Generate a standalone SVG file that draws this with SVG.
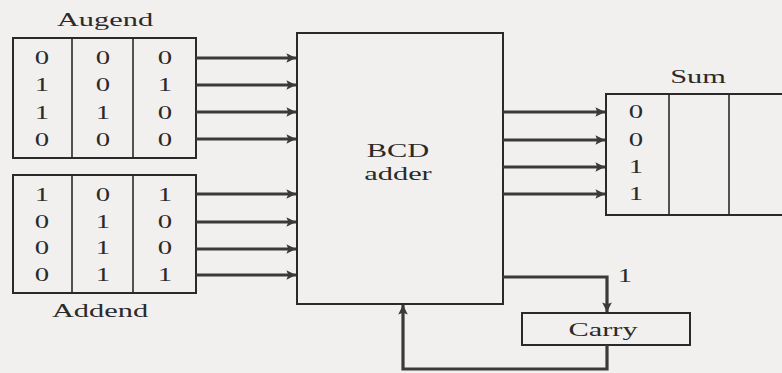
<svg xmlns="http://www.w3.org/2000/svg" width="782" height="373" viewBox="0 0 782 373">
<style>
.bx{fill:none;stroke:#2a2a2a;stroke-width:2}
.ln{fill:none;stroke:#2a2a2a;stroke-width:1.6}
.w{fill:none;stroke:#3a3a3a;stroke-width:3.2}
.t{font-family:"Liberation Serif",serif;font-size:19px;fill:#2a2a2a;text-anchor:middle}
.d{font-family:"Liberation Serif",serif;font-size:18px;fill:#2a2a2a;text-anchor:middle}
</style>
<defs>
<marker id="ah" viewBox="0 0 10 10" refX="10" refY="5" markerWidth="6" markerHeight="3" orient="auto" markerUnits="strokeWidth">
<path d="M0,0 L10,5 L0,10 L2,5 Z" fill="#3a3a3a"/>
</marker>
</defs>
<rect width="782" height="373" fill="#f1f0ee"/>
<g id="augend">
<text class="t" transform="translate(105,26) scale(1.6,1)">Augend</text>
<rect class="bx" x="13" y="38" width="183" height="120"/>
<line class="ln" x1="72" y1="38" x2="72" y2="158"/>
<line class="ln" x1="133" y1="38" x2="133" y2="158"/>
<text class="d" transform="translate(42,64) scale(1.6,1)">0</text><text class="d" transform="translate(103,64) scale(1.6,1)">0</text><text class="d" transform="translate(165,64) scale(1.6,1)">0</text>
<text class="d" transform="translate(42,91) scale(1.6,1)">1</text><text class="d" transform="translate(103,91) scale(1.6,1)">0</text><text class="d" transform="translate(165,91) scale(1.6,1)">1</text>
<text class="d" transform="translate(42,119) scale(1.6,1)">1</text><text class="d" transform="translate(103,119) scale(1.6,1)">1</text><text class="d" transform="translate(165,119) scale(1.6,1)">0</text>
<text class="d" transform="translate(42,146) scale(1.6,1)">0</text><text class="d" transform="translate(103,146) scale(1.6,1)">0</text><text class="d" transform="translate(165,146) scale(1.6,1)">0</text>
</g>
<g id="addend">
<rect class="bx" x="13" y="175" width="183" height="118"/>
<line class="ln" x1="72" y1="175" x2="72" y2="293"/>
<line class="ln" x1="133" y1="175" x2="133" y2="293"/>
<text class="d" transform="translate(42,201) scale(1.6,1)">1</text><text class="d" transform="translate(103,201) scale(1.6,1)">0</text><text class="d" transform="translate(165,201) scale(1.6,1)">1</text>
<text class="d" transform="translate(42,228) scale(1.6,1)">0</text><text class="d" transform="translate(103,228) scale(1.6,1)">1</text><text class="d" transform="translate(165,228) scale(1.6,1)">0</text>
<text class="d" transform="translate(42,254) scale(1.6,1)">0</text><text class="d" transform="translate(103,254) scale(1.6,1)">1</text><text class="d" transform="translate(165,254) scale(1.6,1)">0</text>
<text class="d" transform="translate(42,281) scale(1.6,1)">0</text><text class="d" transform="translate(103,281) scale(1.6,1)">1</text><text class="d" transform="translate(165,281) scale(1.6,1)">1</text>
<text class="t" transform="translate(100,317) scale(1.6,1)">Addend</text>
</g>
<g id="bcd">
<rect class="bx" x="297" y="33" width="206" height="271"/>
<text class="t" transform="translate(398,157) scale(1.6,1)">BCD</text>
<text class="t" transform="translate(398,180) scale(1.6,1)">adder</text>
</g>
<g id="sum">
<text class="t" transform="translate(698,83) scale(1.6,1)">Sum</text>
<rect class="bx" x="606" y="94" width="190" height="121"/>
<line class="ln" x1="669" y1="94" x2="669" y2="215"/>
<line class="ln" x1="729" y1="94" x2="729" y2="215"/>
<text class="d" transform="translate(636,118) scale(1.6,1)">0</text>
<text class="d" transform="translate(636,146) scale(1.6,1)">0</text>
<text class="d" transform="translate(636,173) scale(1.6,1)">1</text>
<text class="d" transform="translate(636,200) scale(1.6,1)">1</text>
</g>
<g id="carry">
<rect class="bx" x="522" y="313" width="168" height="32"/>
<text class="t" transform="translate(603,336) scale(1.6,1)">Carry</text>
</g>
<g id="connectors">
<line class="w" x1="196" y1="58" x2="296" y2="58" marker-end="url(#ah)"/>
<line class="w" x1="196" y1="85" x2="296" y2="85" marker-end="url(#ah)"/>
<line class="w" x1="196" y1="112" x2="296" y2="112" marker-end="url(#ah)"/>
<line class="w" x1="196" y1="139" x2="296" y2="139" marker-end="url(#ah)"/>
<line class="w" x1="196" y1="194" x2="296" y2="194" marker-end="url(#ah)"/>
<line class="w" x1="196" y1="222" x2="296" y2="222" marker-end="url(#ah)"/>
<line class="w" x1="196" y1="249" x2="296" y2="249" marker-end="url(#ah)"/>
<line class="w" x1="196" y1="275" x2="296" y2="275" marker-end="url(#ah)"/>
<line class="w" x1="503" y1="112" x2="605" y2="112" marker-end="url(#ah)"/>
<line class="w" x1="503" y1="140" x2="605" y2="140" marker-end="url(#ah)"/>
<line class="w" x1="503" y1="167" x2="605" y2="167" marker-end="url(#ah)"/>
<line class="w" x1="503" y1="194" x2="605" y2="194" marker-end="url(#ah)"/>
<polyline class="w" points="503,277 607,277 607,312" marker-end="url(#ah)"/>
<polyline class="w" points="607,345 607,369 403,369 403,305" marker-end="url(#ah)"/>
<text class="d" transform="translate(625,282) scale(1.6,1)">1</text>
</g>
</svg>
